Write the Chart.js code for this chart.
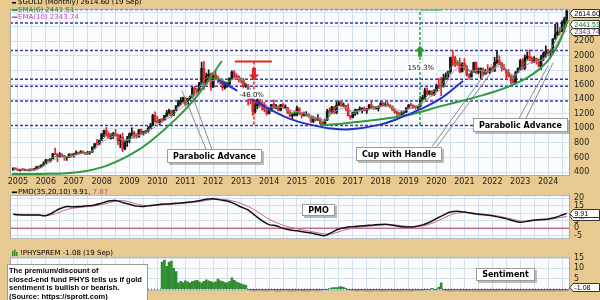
<!DOCTYPE html>
<html><head><meta charset="utf-8">
<script src="https://cdn.jsdelivr.net/npm/chart.js@4/dist/chart.umd.min.js"></script>
<style>
html,body{margin:0;padding:0;background:#E8C98F;width:600px;height:300px;overflow:hidden;position:relative;}
canvas{position:absolute;left:0;}
#c1{top:0}#c2{top:186px}#c3{top:248px}
</style></head><body>
<canvas id="c1" width="600" height="186"></canvas>
<canvas id="c2" width="600" height="62"></canvas>
<canvas id="c3" width="600" height="52"></canvas>
<script>
// ---------------- DATA ----------------
const yearLabels = ['2005','2006','2007','2008','2009','2010','2011','2012','2013','2014','2015','2016','2017','2018','2019','2020','2021','2022','2023','2024'];
const firstMonth = -2; // Nov 2004 (month index 0 = Jan 2005)
const open = [428,453,
438,422,435,428,435,418,437,429,433,473,470,495,
513,569,556,582,654,643,613,633,624,599,604,648,
632,650,665,662,679,656,650,666,672,743,789,783,
834,923,972,917,865,887,930,912,831,880,718,815,
870,928,942,916,884,979,927,955,955,1001,1040,1179,
1096,1081,1116,1113,1180,1213,1244,1181,1247,1307,1357,1386,
1420,1333,1410,1439,1556,1536,1500,1628,1826,1620,1722,1746,
1566,1737,1697,1668,1664,1561,1604,1614,1691,1773,1719,1713,
1676,1664,1579,1596,1472,1392,1234,1313,1395,1328,1323,1253,
1202,1244,1326,1284,1296,1250,1327,1282,1286,1210,1171,1182,
1184,1279,1213,1183,1183,1190,1172,1095,1132,1115,1142,1065,
1061,1118,1238,1234,1292,1215,1322,1350,1309,1316,1276,1173,
1151,1211,1249,1249,1268,1268,1242,1269,1322,1280,1271,1275,
1303,1345,1318,1325,1316,1299,1253,1224,1202,1192,1215,1222,
1282,1321,1313,1292,1284,1305,1409,1413,1520,1472,1513,1464,
1517,1587,1586,1577,1687,1730,1781,1975,1968,1886,1879,1777,
1895,1847,1734,1708,1769,1906,1770,1814,1814,1743,1783,1775,
1829,1797,1909,1937,1897,1837,1807,1766,1711,1661,1633,1768,
1824,1928,1827,1969,1990,1963,1919,1965,1940,1849,1983,2036,
2063,2039,2044,2230,2286,2327,2326,2447,2503];
const high = [456,456,
443,439,447,438,436,443,439,447,476,479,497,541,
574,574,587,654,730,652,668,654,627,608,651,650,
655,690,671,695,692,670,683,675,746,795,848,840,
933,976,1011,948,927,947,988,920,914,935,829,891,
937,1006,963,930,982,990,960,965,1024,1070,1195,1227,
1162,1126,1137,1181,1249,1265,1245,1254,1313,1387,1425,1432,
1424,1413,1448,1569,1577,1553,1632,1913,1921,1761,1804,1763,
1764,1791,1720,1677,1668,1640,1632,1693,1790,1796,1754,1724,
1695,1684,1617,1604,1487,1424,1348,1433,1434,1361,1362,1267,
1280,1332,1392,1331,1315,1332,1345,1323,1288,1255,1205,1239,
1307,1283,1221,1225,1232,1205,1176,1170,1157,1191,1143,1088,
1128,1263,1283,1304,1303,1362,1375,1367,1352,1318,1338,1180,
1220,1264,1261,1296,1270,1296,1275,1331,1357,1306,1299,1307,
1366,1361,1356,1365,1326,1309,1265,1236,1214,1243,1237,1284,
1326,1347,1324,1310,1306,1439,1453,1555,1557,1518,1516,1535,
1611,1689,1704,1748,1765,1789,1982,2075,1992,1933,1966,1906,
1959,1872,1755,1798,1913,1917,1833,1832,1834,1814,1877,1831,
1853,1976,2070,1998,1910,1879,1814,1808,1735,1729,1786,1833,
1949,1959,2009,2048,2079,1983,1987,1966,1953,2009,2052,2135,
2088,2065,2236,2431,2450,2388,2484,2531,2625];
const low = [422,434,
418,411,423,419,414,414,418,425,432,460,458,491,
513,538,535,580,638,543,608,610,561,560,600,605,
604,645,637,660,652,640,647,647,669,725,773,781,
836,887,900,863,850,860,901,775,736,681,705,752,
802,893,865,866,878,914,905,930,945,1000,1043,1085,
1075,1044,1088,1112,1159,1194,1155,1176,1241,1308,1330,1360,
1309,1330,1380,1418,1462,1478,1478,1605,1532,1603,1672,1523,
1563,1688,1627,1612,1527,1540,1564,1590,1690,1692,1672,1635,
1626,1555,1562,1321,1338,1180,1208,1270,1292,1251,1226,1182,
1200,1238,1277,1268,1240,1240,1285,1273,1206,1160,1132,1170,
1171,1191,1142,1168,1170,1162,1077,1080,1098,1108,1053,1046,
1062,1107,1208,1208,1200,1200,1311,1301,1303,1241,1171,1122,
1145,1180,1195,1240,1214,1236,1205,1267,1274,1261,1264,1236,
1303,1307,1303,1302,1282,1245,1211,1160,1180,1182,1196,1221,
1276,1311,1280,1266,1267,1300,1382,1400,1459,1459,1445,1454,
1517,1548,1451,1567,1670,1671,1758,1863,1849,1860,1765,1776,
1803,1717,1677,1705,1766,1751,1750,1688,1721,1746,1759,1753,
1780,1781,1890,1872,1787,1805,1681,1709,1615,1617,1616,1765,
1805,1805,1810,1950,1932,1893,1903,1885,1847,1810,1932,1973,
2002,1984,2039,2228,2277,2287,2353,2364,2472];
const close = [453,438,
422,435,428,435,418,437,429,433,473,470,495,513,
569,556,582,654,643,613,633,624,599,604,648,632,
650,665,662,679,656,650,666,672,743,789,783,834,
923,972,917,865,887,930,912,831,880,718,815,870,
928,942,916,884,979,927,955,955,1001,1040,1179,1096,
1081,1116,1113,1180,1213,1244,1181,1247,1307,1357,1386,1420,
1333,1410,1439,1556,1536,1500,1628,1826,1620,1722,1746,1566,
1737,1697,1668,1664,1561,1604,1614,1691,1773,1719,1713,1676,
1664,1579,1596,1472,1392,1234,1313,1395,1328,1323,1253,1202,
1244,1326,1284,1296,1250,1327,1282,1286,1210,1171,1182,1184,
1279,1213,1183,1183,1190,1172,1095,1132,1115,1142,1065,1061,
1118,1238,1234,1292,1215,1322,1350,1309,1316,1276,1173,1151,
1211,1249,1249,1268,1268,1242,1269,1322,1280,1271,1275,1303,
1345,1318,1325,1316,1299,1253,1224,1202,1192,1215,1222,1282,
1321,1313,1292,1284,1305,1409,1413,1520,1472,1513,1464,1517,
1587,1586,1577,1687,1730,1781,1975,1968,1886,1879,1777,1895,
1847,1734,1708,1769,1906,1770,1814,1814,1743,1783,1775,1829,
1797,1909,1937,1897,1837,1807,1766,1711,1661,1633,1768,1824,
1928,1827,1969,1990,1963,1919,1965,1940,1849,1983,2036,2063,
2039,2044,2230,2286,2327,2326,2447,2503,2614.6];

// indicator sample months (every quarter)
const indMonths = [-2,0,3,6,9,12,15,18,21,24,27,30,33,36,39,42,45,48,51,54,57,60,63,66,69,72,75,78,81,84,87,90,93,96,99,102,105,108,111,114,117,120,123,126,129,132,135,138,141,144,147,150,153,156,159,162,165,168,171,174,177,180,183,186,189,192,195,198,201,204,207,210,213,216,219,222,225,228,231,234,236];
const ema6 = [440,436,432,430,450,520,600,628,612,634,663,662,728,840,903,906,822,852,910,942,1000,1082,1137,1198,1292,1367,1463,1567,1696,1690,1683,1628,1698,1683,1555,1363,1324,1252,1287,1285,1219,1216,1198,1138,1128,1093,1232,1310,1295,1205,1251,1263,1288,1315,1319,1254,1208,1283,1297,1380,1478,1532,1621,1826,1908,1860,1761,1802,1779,1796,1889,1795,1682,1826,1933,1952,1941,2040,2192,2381,2441.51];
const ema10 = [435,434,432,430,443,496,565,600,608,624,650,658,705,800,870,890,848,849,890,922,975,1045,1108,1166,1252,1325,1418,1510,1622,1660,1668,1640,1678,1680,1595,1440,1373,1300,1292,1287,1246,1230,1212,1166,1145,1114,1196,1262,1284,1233,1244,1256,1276,1300,1310,1275,1234,1265,1286,1347,1428,1490,1570,1730,1827,1845,1791,1800,1786,1793,1858,1815,1730,1794,1878,1920,1934,2004,2126,2290,2343.74];
const pmo = [9.3,9.0,8.8,8.8,8.8,8.4,10.5,13,14.5,14.3,14.6,15,15.6,16.8,18.2,18.6,17.2,16,14.8,14.6,15.2,15.8,16.2,16.4,16.8,17.2,17.8,18.4,19.4,19.7,19,18.2,16.5,14.2,12.2,8.5,5,2.4,1.6,0,-1.2,-1.8,-2.6,-3.3,-4.3,-5,-2.8,-0.6,0.5,1,1.4,1.8,2.2,2.5,2.5,1.8,1,0.8,1.2,2.2,4,6.5,8.8,10.8,11.3,10.8,10,9.4,8.9,8.3,7.4,6.4,5,4,4.7,5.5,5.8,6.2,7.2,8.8,9.91];
const pmoSignal = [9.6,9.3,9,8.9,8.8,8.6,9.2,10.8,12.5,13.5,14,14.5,15,15.8,17,18.2,18.6,17.6,16.2,15.2,15,15.3,15.8,16.1,16.4,16.8,17.2,17.8,18.6,19.3,19.4,19,18,16.5,14.6,12,9,6,3.8,2,0.6,-0.4,-1.3,-2.2,-3.1,-3.9,-3.8,-2.4,-1,0,0.7,1.2,1.7,2.1,2.4,2.2,1.7,1.2,1,1.5,2.7,4.5,6.8,8.9,10.2,10.6,10.3,9.8,9.2,8.7,7.9,7,5.9,4.8,4.6,5,5.4,5.8,6.5,7.4,7.87];

// PHYS premium / discount (monthly, from Mar 2010)
const sentFirstMonth = 62;
const sentiment = [13,14,11,13,13.5,10,8.5,
3,3.8,3.2,4,3.5,3,3.6,4,4.2,3.5,3,3.8,4.5,4,3.6,3.2,3.5,4.8,4,3.6,3.2,3,3.8,5.4,4.2,3.5,3,2.5,2.2,1.8,
-0.3,-0.6,-0.9,-1.2,-0.8,-0.5,-0.7,-1.1,-1.4,-1.0,-0.6,-0.8,-1.2,-1.5,-1.3,-0.9,-0.6,-1.0,-1.4,-1.6,-1.2,-0.9,-0.7,-1.1,-1.3,-1.5,-1.2,-0.8,-0.6,-0.9,-1.1,-0.7,-0.4,-0.3,-0.2,
0.3,0.6,0.8,0.7,1.0,1.2,0.9,0.4,
-0.2,-0.5,-0.8,-1.0,-1.2,-0.9,-0.7,-1.1,-1.3,-1.5,-1.2,-0.9,-0.8,-1.0,-1.3,-1.6,-1.4,-1.1,-0.9,-1.2,-1.5,-1.7,-1.4,-1.1,-1.0,-0.8,-1.1,-1.3,-1.0,-0.7,-0.5,-0.8,-0.6,-0.4,-0.3,-0.2,
0.4,-0.2,-0.3,1.0,3.0,
-0.4,-0.8,-1.2,-1.5,-1.3,-1.0,-0.9,-1.2,-1.6,-1.8,-1.5,-1.3,-1.1,-1.4,-1.7,-1.9,-1.6,-1.3,-1.2,-1.5,-1.8,-2.0,-1.7,-1.4,-1.2,-1.0,-1.3,-1.6,-1.9,-2.1,-1.8,-1.5,-1.3,-1.6,-1.9,-2.2,-2.0,-1.7,-1.4,-1.2,-1.5,-1.8,-2.0,-1.7,-1.4,-1.1,-1.3,-1.5,-1.2,-1.0,-1.3,-1.1,-0.9,-1.08];

// axis ticks
const priceTicks = [400,600,800,1000,1200,1400,1600,1800,2000,2200,2400,2600];
const priceTicksHidden = [2400,2600];
const pmoTicks = [-5,0,5,10,15,20];
const pmoTicksHidden = [10];
const sentTicks = [0,5,10,15];
const sentTicksHidden = [0];

// chart annotations (month index, price)
const levels = [2634,2450,2070,1675,1578,1375,1040];
const cupMonths = [86,93.3,99.8,108.4,117,125.6,134.2,142.8,155.7,164.3,172.9,181.5,191.4];
const cupPrices = [1666,1535,1418,1261,1131,1052,1000,987,1052,1144,1261,1405,1653];
const para1Months = [-2.6,13.8,26.7,37.4,48.2,56.8,67.5,77,87.7];
const para1Prices = [372,375,400,478,634,817,1117,1444,1927];
const para2Months = [129.9,142.8,165.6,182.8,200,212.9,224.5,231.8,236.6];
const para2Prices = [1039,1078,1170,1313,1457,1601,1822,2123,2488];
const callouts = [[80.9,713,70.5,1522],[83.4,713,74.8,1470],[178.1,752,203.9,1888],[180.2,752,206.5,1901],[215.1,1117,228,1862],[218.1,1117,230.1,1901]];
const dropMonths = [93.3,109.2,101.5]; const dropPrices = [1921,1040];
const riseMonths = [172.9,182]; const risePrices = [1045,2632];
const mainNotes = [['Parabolic Advance',84.7,615],['Cup with Handle',163.9,654],['Parabolic Advance',216.3,1046]];

// ---------------- DRAWING ----------------
const X_MIN = -3.4, X_MAX = 237.4;
const GRID = '#D2DFEC', PLOT_BG = '#FAFCFE';
const FONT = "'DejaVu Sans', sans-serif";
const NFONT = "'Liberation Sans', Arial, sans-serif";
const pts = (xs, ys) => xs.map((x, i) => ({x, y: ys[i]}));
function lineDS(data, color, width, extra) {
  return Object.assign({type:'line', data, borderColor:color, borderWidth:width, pointRadius:0, fill:false, tension:0}, extra || {});
}
function xScale(showLabels) {
  return {
    type:'linear', min:X_MIN, max:X_MAX, offset:false,
    grid:{color:GRID, offset:false, drawTicks:false}, border:{display:false},
    ticks:{display:showLabels, autoSkip:false, maxRotation:0, padding:1, color:'#222', font:{family:FONT, size:8},
      callback:(v) => (v % 12 === 0 && yearLabels[v/12]) ? yearLabels[v/12] : ''},
    afterBuildTicks:(ax) => { const t = []; for (let m = 0; m <= X_MAX; m += 6) t.push({value:m}); ax.ticks = t; },
    afterFit:(ax) => { ax.height = showLabels ? 10 : 0; }
  };
}
function yScale(min, max, ticks, hidden) {
  return {
    type:'linear', position:'right', min, max,
    grid:{color:GRID, drawTicks:false}, border:{display:false},
    ticks:{autoSkip:false, padding:4, color:'#222', font:{family:FONT, size:8},
      callback:(v) => hidden.includes(v) ? '' : String(v)},
    afterBuildTicks:(ax) => { ax.ticks = ticks.map(v => ({value:v})); },
    afterFit:(ax) => { ax.width = 30; }
  };
}
const bgPlugin = {
  id:'bg',
  beforeDraw(chart) { const a = chart.chartArea, c = chart.ctx; c.save(); c.fillStyle = PLOT_BG; c.fillRect(a.left, a.top, a.right-a.left, a.bottom-a.top); c.restore(); },
  afterDraw(chart) { const a = chart.chartArea, c = chart.ctx; c.save(); c.strokeStyle = '#A9A9A9'; c.lineWidth = 1; c.strokeRect(a.left+0.5, a.top+0.5, a.right-a.left-1, a.bottom-a.top-1); c.restore(); }
};
function valueBox(chart, v, text, color) {
  const c = chart.ctx, a = chart.chartArea;
  let y = chart.scales.y.getPixelForValue(v);
  y = Math.round(Math.max(a.top+4, Math.min(a.bottom-4, y))) + 0.5;
  const x0 = a.right + 3, x1 = 599.5, h = 8;
  c.beginPath(); c.moveTo(x0-3, y); c.lineTo(x0, y-h/2); c.lineTo(x1, y-h/2); c.lineTo(x1, y+h/2); c.lineTo(x0, y+h/2); c.closePath();
  c.fillStyle = '#fff'; c.fill(); c.strokeStyle = '#333'; c.lineWidth = 1; c.stroke();
  c.fillStyle = color; c.font = "7px " + NFONT; c.textAlign = 'left'; c.textBaseline = 'middle';
  c.fillText(text, x0+1.5, y+0.5);
}
function noteBox(c, text, cx, cy, h) {
  c.font = "bold 8px " + FONT;
  const w = Math.round(c.measureText(text).width + 12);
  const x = Math.round(cx - w/2), y = Math.round(cy - h/2);
  c.fillStyle = 'rgba(110,110,110,0.45)'; c.fillRect(x+2, y+2, w, h);
  c.fillStyle = '#fff'; c.fillRect(x, y, w, h);
  c.strokeStyle = '#9A9A9A'; c.lineWidth = 1; c.strokeRect(x+0.5, y+0.5, w-1, h-1);
  c.fillStyle = '#000'; c.textAlign = 'center'; c.textBaseline = 'middle'; c.fillText(text, x + w/2, y + h/2 + 0.5);
}
function vArrow(c, x, yTail, yTip, color) {
  const dir = yTip > yTail ? 1 : -1, headLen = 6, headW = 5, sw = 2;
  const yb = yTip - dir*headLen;
  c.fillStyle = color; c.beginPath();
  c.moveTo(x-sw, yTail); c.lineTo(x+sw, yTail); c.lineTo(x+sw, yb); c.lineTo(x+headW, yb); c.lineTo(x, yTip); c.lineTo(x-headW, yb); c.lineTo(x-sw, yb); c.closePath(); c.fill();
}
function pctLabel(c, text, cx, cy) {
  c.font = "7px " + FONT; const w = c.measureText(text).width + 4;
  c.fillStyle = '#fff'; c.fillRect(cx - w/2, cy - 4.5, w, 9);
  c.fillStyle = '#111'; c.textAlign = 'center'; c.textBaseline = 'middle'; c.fillText(text, cx, cy + 0.5);
}

const base = {responsive:false, animation:false, devicePixelRatio:1,
  plugins:{legend:{display:false}, tooltip:{enabled:false}}, events:[]};

// ---- main price chart ----
const months = close.map((_, i) => firstMonth + i);
const isUp = close.map((c, i) => c >= open[i]);
const candleColor = isUp.map(u => u ? '#151515' : '#E2262B');
const mainDatasets = [];
levels.forEach(v => mainDatasets.push(lineDS([{x:X_MIN,y:v},{x:X_MAX,y:v}], '#3A3AA6', 1.5, {borderDash:[3,2], order:9})));
mainDatasets.push({type:'bar', data: months.map((m,i) => ({x:m, y:[low[i], high[i]]})), backgroundColor:candleColor, barThickness:1, grouped:false, order:6});
mainDatasets.push({type:'bar', data: months.map((m,i) => ({x:m, y:[Math.min(open[i],close[i]), Math.max(open[i],close[i])]})), backgroundColor:candleColor, barThickness:2, minBarLength:1, grouped:false, order:5});
mainDatasets.push(lineDS(pts(indMonths, ema10), '#C77DC7', 1, {order:4, tension:0.3}));
mainDatasets.push(lineDS(pts(indMonths, ema6), '#3C9A3C', 1, {order:3, tension:0.3}));
callouts.forEach(l => mainDatasets.push(lineDS([{x:l[0],y:l[1]},{x:l[2],y:l[3]}], '#8C8C8C', 1, {order:2})));
mainDatasets.push(lineDS(pts(cupMonths, cupPrices), '#2233C0', 2, {order:1, tension:0.4}));
mainDatasets.push(lineDS(pts(para1Months, para1Prices), '#2E9A3A', 2, {order:1, tension:0.4}));
mainDatasets.push(lineDS(pts(para2Months, para2Prices), '#2E9A3A', 2, {order:1, tension:0.4}));
mainDatasets.push(lineDS([{x:dropMonths[0],y:dropPrices[0]},{x:dropMonths[1],y:dropPrices[0]}], '#E52424', 2, {order:1}));
mainDatasets.push(lineDS([{x:dropMonths[2],y:dropPrices[0]},{x:dropMonths[2],y:dropPrices[1]}], '#E52424', 1.5, {order:1, borderDash:[3,2]}));
mainDatasets.push(lineDS([{x:riseMonths[0],y:risePrices[0]},{x:riseMonths[0],y:risePrices[1]}], '#2EA02E', 1.5, {order:1, borderDash:[3,2]}));
mainDatasets.push(lineDS([{x:riseMonths[0],y:risePrices[1]},{x:riseMonths[1],y:risePrices[1]}], '#2EA02E', 1.5, {order:1}));

const mainOverlay = {
  id:'mainOverlay',
  afterDraw(chart) {
    const c = chart.ctx, xs = chart.scales.x, ys = chart.scales.y;
    c.save();
    vArrow(c, xs.getPixelForValue(dropMonths[2]), ys.getPixelForValue(1830), ys.getPixelForValue(1660), '#E52424');
    vArrow(c, xs.getPixelForValue(riseMonths[0]), ys.getPixelForValue(1985), ys.getPixelForValue(2140), '#2E9A2E');
    pctLabel(c, '-46.0%', xs.getPixelForValue(100.5), ys.getPixelForValue(1470));
    pctLabel(c, '155.3%', xs.getPixelForValue(173.3), ys.getPixelForValue(1835));
    mainNotes.forEach(n => noteBox(c, n[0], xs.getPixelForValue(n[1]), ys.getPixelForValue(n[2]), 14));
    // legend
    c.font = "7px " + FONT; c.textAlign = 'left'; c.textBaseline = 'middle';
    c.fillStyle = '#000'; c.fillRect(12, 2, 4, 1.5); c.fillText('$GOLD (Monthly) 2614.60 (19 Sep)', 18, 2.5);
    c.fillStyle = '#2A8A2A'; c.fillRect(12, 9.5, 5, 1.5); c.fillText('EMA(6) 2441.51', 18, 10);
    c.fillStyle = '#C048C0'; c.fillRect(12, 16.5, 5, 1.5); c.fillText('EMA(10) 2343.74', 18, 17);
    valueBox(chart, 2343.74, '2343.74', '#8A2F8A');
    valueBox(chart, 2441.51, '2441.51', '#1F6F1F');
    valueBox(chart, 2614.6, '2614.60', '#000');
    c.restore();
  }
};
new Chart(document.getElementById('c1'), {
  type:'line', data:{datasets:mainDatasets},
  options:Object.assign({}, base, {
    layout:{padding:{left:10, right:0, top:0, bottom:0}, autoPadding:false},
    scales:{x:xScale(true), y:yScale(345, 2645, priceTicks, priceTicksHidden)}
  }),
  plugins:[bgPlugin, mainOverlay]
});

// ---- PMO chart ----
const pmoOverlay = {
  id:'pmoOverlay',
  afterDraw(chart) {
    const c = chart.ctx, xs = chart.scales.x, ys = chart.scales.y;
    c.save();
    noteBox(c, 'PMO', xs.getPixelForValue(129.2), ys.getPixelForValue(12.3), 12);
    c.font = "7px " + FONT; c.textAlign = 'left'; c.textBaseline = 'middle';
    c.fillStyle = '#000'; c.fillRect(12, 5.5, 5, 1.5);
    const t1 = 'PMO(35,20,10) 9.91, ';
    c.fillText(t1, 18, 6);
    c.fillStyle = '#C0507A'; c.fillText('7.87', 18 + c.measureText(t1).width, 6);
    valueBox(chart, 7.87, '7.87', '#A03A6A');
    valueBox(chart, 9.91, '9.91', '#000');
    c.restore();
  }
};
new Chart(document.getElementById('c2'), {
  type:'line',
  data:{datasets:[
    lineDS([{x:X_MIN,y:0},{x:X_MAX,y:0}], '#C0305A', 1, {order:3}),
    lineDS(pts(indMonths, pmoSignal), '#C86A90', 1, {order:2, tension:0.35}),
    lineDS(pts(indMonths, pmo), '#111', 1.5, {order:1, tension:0.35})
  ]},
  options:Object.assign({}, base, {
    layout:{padding:{left:10, right:0, top:0, bottom:0}, autoPadding:false},
    scales:{x:xScale(false), y:yScale(-7.4, 22.4, pmoTicks, pmoTicksHidden)}
  }),
  plugins:[bgPlugin, pmoOverlay]
});

// ---- Sentiment chart ----
const sentMonths = sentiment.map((_, i) => sentFirstMonth + i);
const sentOverlay = {
  id:'sentOverlay',
  afterDraw(chart) {
    const c = chart.ctx, xs = chart.scales.x, ys = chart.scales.y;
    c.save();
    noteBox(c, 'Sentiment', xs.getPixelForValue(209.5), ys.getPixelForValue(7.3), 13);
    c.font = "7px " + FONT; c.textAlign = 'left'; c.textBaseline = 'middle';
    c.fillStyle = '#2E8B2E'; c.fillRect(12, 3, 1.5, 5); c.fillRect(14, 1.5, 1.5, 6.5); c.fillRect(16, 4, 1.5, 4);
    c.fillStyle = '#000'; c.fillText('!PHYSPREM -1.08 (19 Sep)', 20, 5);
    // note box
    c.fillStyle = '#fff'; c.fillRect(7, 16, 141, 40);
    c.strokeStyle = '#9A9A9A'; c.lineWidth = 1; c.strokeRect(7.5, 16.5, 140, 40);
    c.fillStyle = '#000'; c.font = "bold 7.5px " + NFONT;
    ['The premium/discount of', 'closed-end fund PHYS tells us if gold', 'sentiment is bullish or bearish.', '(Source: https://sprott.com)']
      .forEach((t, i) => c.fillText(t, 9, 23 + i*8.5));
    valueBox(chart, -1.08, '-1.08', '#000');
    c.restore();
  }
};
new Chart(document.getElementById('c3'), {
  type:'line',
  data:{datasets:[
    lineDS([{x:X_MIN,y:0},{x:X_MAX,y:0}], '#555', 1, {order:2, borderDash:[1,2]}),
    {type:'bar', data:pts(sentMonths, sentiment), backgroundColor:sentiment.map(v => v >= 0 ? '#2F8C2F' : '#B3203F'), barThickness:2, grouped:false, order:1}
  ]},
  options:Object.assign({}, base, {
    layout:{padding:{left:10, right:0, top:0, bottom:0}, autoPadding:false},
    scales:{x:xScale(false), y:yScale(-1, 15.6, sentTicks, sentTicksHidden)}
  }),
  plugins:[bgPlugin, sentOverlay]
});
</script></body></html>
